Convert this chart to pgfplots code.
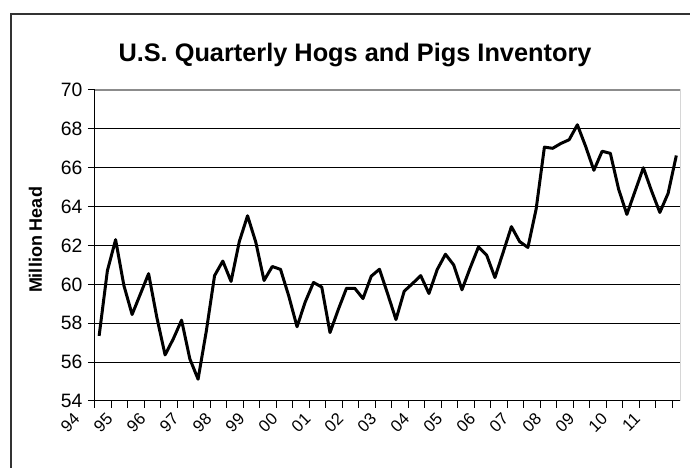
\documentclass[border=0pt]{standalone}
\usepackage{pgfplots}
\pgfplotsset{compat=1.18}
\usepackage{fontspec}
\setmainfont{Liberation Sans}
\begin{document}
\begin{tikzpicture}
\path[use as bounding box] (0,0) rectangle (517.5pt,351pt);
\draw[line width=0.9pt, black!80] (8.25pt,-1pt) -- (8.25pt,340.5pt) -- (518.5pt,340.5pt);
\node[anchor=base, font=\bfseries\fontsize{19}{21}\selectfont] at (266.25pt,304.5pt) {U.S. Quarterly Hogs and Pigs Inventory};
\node[rotate=90, font=\bfseries\fontsize{13.5}{15}\selectfont] at (26.5pt,171pt) {Million Head};
\begin{axis}[
  at={(71.25pt,50.25pt)}, anchor=south west,
  scale only axis, width=439.1pt, height=233.25pt,
  xmin=-0.5, xmax=70.5, ymin=54, ymax=70,
  axis x line*=bottom, axis y line*=left,
  axis line style={line width=0.75pt, black, -},
  ytick={54,56,...,70},
  ymajorgrids, grid style={line width=0.75pt, black},
  xtick={-0.5,1.5,...,69.5}, xticklabels={},
  extra x ticks={0,4,...,68},
  extra x tick labels={94,95,96,97,98,99,00,01,02,03,04,05,06,07,08,09,10,11},
  extra x tick style={major tick length=0pt,
     tick label style={xshift=-20pt, yshift=-8pt, rotate=45, anchor=north east, inner sep=0pt,
       font=\fontsize{12.5}{13}\selectfont}},
  tick align=outside, major tick length=5.25pt,
  tick style={line width=0.75pt, black},
  yticklabel style={font=\fontsize{14.5}{16}\selectfont, inner sep=0pt, anchor=east, xshift=-4pt},
  /pgf/number format/assume math mode=true,
]
\addplot[black, line width=2.25pt, line join=round, mark=none] table[x=i, y=v] {
i v
0 57.35
1 60.7
2 62.3
3 59.95
4 58.45
5 59.5
6 60.55
7 58.3
8 56.37
9 57.2
10 58.16
11 56.17
12 55.12
13 57.6
14 60.45
15 61.2
16 60.15
17 62.2
18 63.53
19 62.17
20 60.2
21 60.92
22 60.77
23 59.4
24 57.82
25 59.1
26 60.1
27 59.86
28 57.52
29 58.7
30 59.8
31 59.8
32 59.27
33 60.42
34 60.78
35 59.5
36 58.19
37 59.65
38 60.04
39 60.45
40 59.53
41 60.76
42 61.55
43 61.0
44 59.72
45 60.85
46 61.92
47 61.5
48 60.35
49 61.65
50 62.97
51 62.2
52 61.9
53 63.88
54 67.06
55 67.0
56 67.25
57 67.44
58 68.21
59 67.1
60 65.87
61 66.85
62 66.74
63 64.9
64 63.6
65 64.8
66 66.0
67 64.8
68 63.7
69 64.68
70 66.63
};
\draw[line width=0.9pt, black!45] (rel axis cs:0,1) -- (rel axis cs:1,1) -- (rel axis cs:1,0);
\end{axis}
\end{tikzpicture}
\end{document}
